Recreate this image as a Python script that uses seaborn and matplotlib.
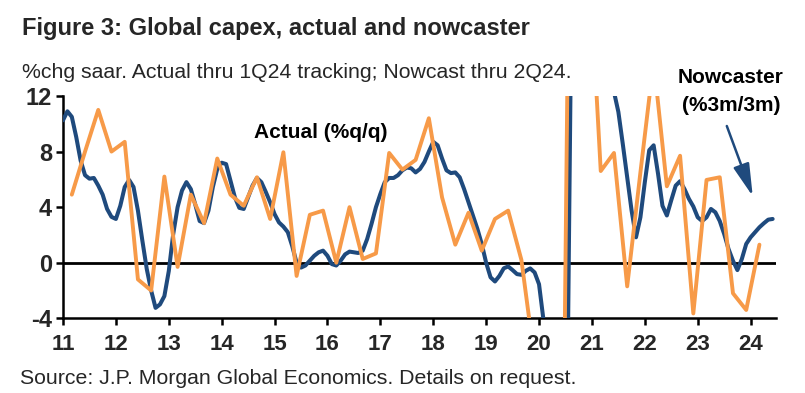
import numpy as np
import pandas as pd
import matplotlib
matplotlib.use("Agg")
import matplotlib.pyplot as plt
import seaborn as sns

# ---------------- data ----------------
actual_qq = [
    4.9, 8.0, 11.0, 8.0,      # 2011
    8.7, -1.2, -2.0, 6.2,     # 2012
    -0.3, 4.9, 2.85, 7.5,     # 2013
    4.9, 4.1, 6.15, 3.15,     # 2014
    7.95, -0.95, 3.45, 3.75,  # 2015
    0.0, 4.0, 0.27, 0.67,     # 2016
    7.9, 6.7, 7.4, 10.4,      # 2017
    4.7, 1.3, 3.6, 0.87,      # 2018
    3.15, 3.75, 0.2, -7.0,    # 2019
    -15.0, -30.0, 60.0, 24.0, # 2020
    6.6, 7.9, -1.7, 6.5,      # 2021
    14.5, 5.5, 7.7, -3.65,    # 2022
    5.96, 6.15, -2.2, -3.4,   # 2023
    1.3,                      # 2024
]
nowcaster_3m3m = [
    10.25, 10.9, 10.5, 9.05, 7.35, 6.3, 6.05, 6.1, 5.55, 4.9, 3.87, 3.3,      # 2011
    3.15, 4.1, 5.45, 5.96, 5.45, 3.75, 1.6, -0.45, -2.0, -3.25, -3.0, -2.4,   # 2012
    -0.6, 2.05, 4.0, 5.2, 5.8, 5.3, 4.2, 3.0, 2.85, 3.75, 5.45, 6.75,         # 2013
    7.2, 7.1, 5.9, 4.7, 3.95, 3.87, 4.7, 5.55, 6.1, 5.8, 5.1, 4.35,           # 2014
    3.5, 2.9, 2.6, 2.2, 1.2, 0.0, -0.35, -0.2, 0.15, 0.5, 0.75, 0.87,         # 2015
    0.5, -0.1, -0.2, 0.15, 0.6, 0.8, 0.75, 0.7, 0.87, 1.7, 2.8, 4.0,          # 2016
    4.95, 5.8, 6.1, 6.1, 6.3, 6.65, 6.85, 6.8, 6.5, 6.75, 7.25, 8.0,          # 2017
    8.7, 8.45, 7.5, 6.65, 6.45, 6.5, 6.15, 5.3, 4.35, 3.4, 2.45, 1.35,        # 2018
    0.0, -1.05, -1.35, -0.95, -0.4, -0.27, -0.53, -0.82, -0.87, -0.58, -0.41, -0.7,  # 2019
    -1.55, -4.1, -10.0, -20.0, -28.0, -30.0, -23.0, 8.0, 40.0, 38.0, 34.0, 28.0,    # 2020
    24.0, 21.0, 18.0, 15.5, 13.6, 12.3, 10.85, 8.55, 6.15, 3.75, 1.83, 3.27,  # 2021
    5.8, 8.1, 8.45, 6.4, 4.1, 3.4, 4.5, 5.55, 5.87, 5.3, 4.6, 4.05,           # 2022
    3.27, 3.0, 3.27, 3.87, 3.63, 3.0, 2.07, 0.98, 0.14, -0.53, 0.26, 1.35,    # 2023
    1.83, 2.19, 2.55, 2.84, 3.1, 3.15,                                        # 2024
]
year_labels = ["11", "12", "13", "14", "15", "16", "17", "18", "19", "20", "21", "22", "23", "24"]
y_ticks = [-4, 0, 4, 8, 12]

# dates (quarter-end months for actual, monthly for nowcaster)
q_dates = pd.period_range("2011Q1", periods=len(actual_qq), freq="Q")
m_dates = pd.period_range("2011-01", periods=len(nowcaster_3m3m), freq="M")

def frac_year_q(p):
    return p.year + (p.quarter * 3 - 1) / 12.0

def frac_year_m(p):
    return p.year + (p.month - 1) / 12.0

df_a = pd.DataFrame({"t": [frac_year_q(p) for p in q_dates], "v": actual_qq})
df_n = pd.DataFrame({"t": [frac_year_m(p) for p in m_dates], "v": nowcaster_3m3m})

# ---------------- style ----------------
sns.set_style("white")
plt.rcParams["font.family"] = ["Liberation Sans", "DejaVu Sans"]

NAVY = "#1F4A7D"
ORANGE = "#F79A48"

W, H = 805, 393
fig = plt.figure(figsize=(W / 100, H / 100), dpi=100)
ax = fig.add_axes([63 / W, 1 - 318.3 / H, (776 - 63) / W, (318.3 - 96) / H])

sns.lineplot(data=df_n, x="t", y="v", ax=ax, color=NAVY, lw=2.9, zorder=3)
sns.lineplot(data=df_a, x="t", y="v", ax=ax, color=ORANGE, lw=2.8, zorder=4)

ax.axhline(0, color="black", lw=2.0, zorder=2)

ax.set_xlim(2011.0, 2024.48)
ax.set_ylim(-4, 12)
ax.set_xticks(np.arange(2011, 2025))
ax.set_xticklabels(year_labels)
ax.set_yticks(y_ticks)
ax.set_yticklabels([str(v) for v in y_ticks])
ax.set_xlabel("")
ax.set_ylabel("")

for s in ["top", "right"]:
    ax.spines[s].set_visible(False)
for s in ["left", "bottom"]:
    ax.spines[s].set_color("black")
    ax.spines[s].set_linewidth(1.8)

ax.tick_params(axis="both", which="major", direction="out", length=5, width=1.8,
               color="black", bottom=True, left=True)
ax.tick_params(axis="x", labelsize=16, pad=6)
ax.tick_params(axis="y", labelsize=17, pad=3)
for lab in ax.get_xticklabels() + ax.get_yticklabels():
    lab.set_fontweight("bold")

# annotations
ax.text(2015.88, 9.4, "Actual (%q/q)", ha="center", va="center",
        fontsize=15, fontweight="bold", color="black")
ax.text(2023.62, 13.3, "Nowcaster", ha="center", va="center",
        fontsize=15, fontweight="bold", color="black", clip_on=False)
ax.text(2023.64, 11.3, "(%3m/3m)", ha="center", va="center",
        fontsize=15, fontweight="bold", color="black", clip_on=False)
ax.annotate("", xy=(2024.04, 4.79), xytext=(2023.55, 9.84),
            arrowprops=dict(arrowstyle="-|>,head_length=1.1,head_width=0.28",
                            color=NAVY, lw=1.8, mutation_scale=18,
                            shrinkA=0, shrinkB=0))

# titles
fig.text(22 / W, 1 - 28 / H, "Figure 3: Global capex, actual and nowcaster",
         ha="left", va="center", fontsize=17, fontweight="bold")
fig.text(22 / W, 1 - 72 / H, "%chg saar. Actual thru 1Q24 tracking; Nowcast thru 2Q24.",
         ha="left", va="center", fontsize=15.3)
fig.text(20 / W, 1 - 378 / H, "Source: J.P. Morgan Global Economics. Details on request.",
         ha="left", va="center", fontsize=15.3)

fig.savefig("out.png", dpi=100)
